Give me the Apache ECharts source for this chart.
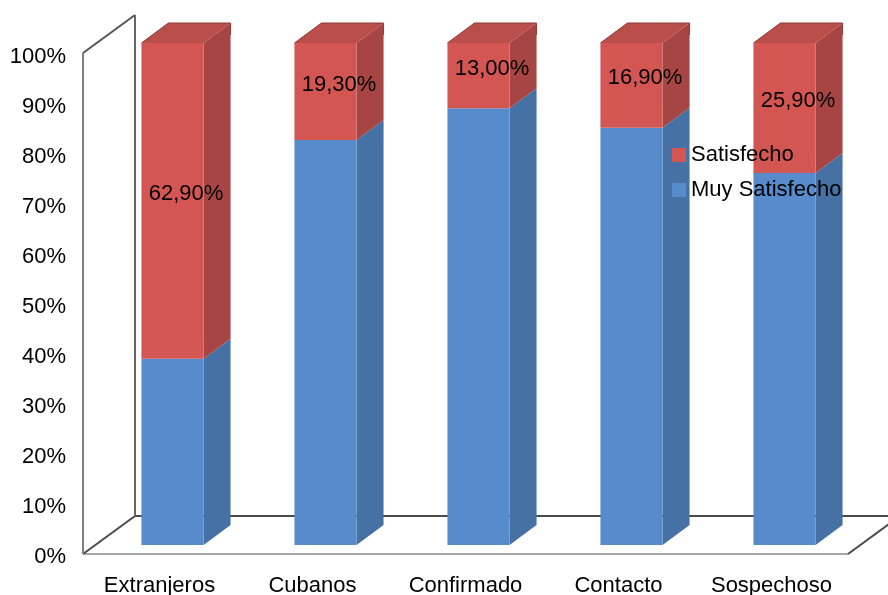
<!DOCTYPE html>
<html><head><meta charset="utf-8">
<script src="https://cdn.jsdelivr.net/npm/echarts/dist/echarts.min.js"></script>
<style>html,body{margin:0;padding:0;background:#fff}#c{width:888px;height:595px}</style>
</head><body><div id="c"></div>
<script>
// ---- data ----
const categories = ['Extranjeros', 'Cubanos', 'Confirmado', 'Contacto', 'Sospechoso'];
const muySatisfecho = [37.1, 80.7, 87.0, 83.1, 74.1];
const satisfecho = [62.9, 19.3, 13.0, 16.9, 25.9];
const seriesNames = ['Muy Satisfecho', 'Satisfecho'];

// ---- styles ----
const FONT = "'Liberation Sans', Arial, sans-serif";
const FS = 22;
const DX = 27, DY = -20;       // bar depth offset
const WX = 52, WY = -38;       // wall/floor depth offset
const BLUE = {front: '#578bcc', side: '#4671a5', top: '#4d7cb6', stroke: '#3c6290'};
const RED = {front: '#d35653', side: '#a64543', top: '#b94e4b', stroke: '#8e3a38'};

function fmt(v) { return v.toFixed(2).replace('.', ',') + '%'; }

function barRenderer(col, showLabel) {
  return function (params, api) {
    const i = api.value(0), lo = api.value(1), hi = api.value(2), val = api.value(3);
    const pLo = api.coord([i, lo]), pHi = api.coord([i, hi]);
    const band = api.size([1, 0])[0];
    const hw = band * 0.203;
    const xl = pLo[0] - hw, xr = pLo[0] + hw;
    const yl = pLo[1], yh = pHi[1];
    const children = [
      {type: 'polygon', shape: {points: [[xr, yl], [xr + DX, yl + DY], [xr + DX, yh + DY], [xr, yh]]},
        style: {fill: col.side}},
      {type: 'rect', shape: {x: xl, y: yh, width: xr - xl, height: yl - yh}, style: {fill: col.front}}
    ];
    if (showLabel) {
      children.push({type: 'polygon', shape: {points: [[xl, yh], [xr, yh], [xr + DX, yh + DY], [xl + DX, yh + DY]]},
        style: {fill: col.top}});
      children.push({type: 'polyline', shape: {points: [[xl, yh], [xl + DX, yh + DY], [xr + DX, yh + DY], [xr + DX, yh + DY + 12]]},
        style: {stroke: col.stroke, lineWidth: 1, fill: null}});
      children.push({type: 'text', x: pLo[0] + DX / 2, y: (yl + yh) / 2 + DY / 2 + 3,
        style: {text: fmt(val), fontSize: FS, fontFamily: FONT, fill: '#000', align: 'center', verticalAlign: 'middle'}});
    }
    return {type: 'group', children: children};
  };
}

const blueData = categories.map((c, i) => [i, 0, muySatisfecho[i], muySatisfecho[i]]);
const redData = categories.map((c, i) => [i, muySatisfecho[i], muySatisfecho[i] + satisfecho[i], satisfecho[i]]);

const chart = echarts.init(document.getElementById('c'), null, {renderer: 'canvas'});
chart.setOption({
  animation: false,
  backgroundColor: '#fff',
  textStyle: {fontFamily: FONT},
  grid: [
    {left: 96, top: 43, width: 765, height: 502, outerBoundsMode: 'none', containLabel: false},
    {left: 83, top: 53, width: 765, height: 501, outerBoundsMode: 'none', containLabel: false},
    {left: 83, top: 57, width: 765, height: 500, outerBoundsMode: 'none', containLabel: false}
  ],
  xAxis: [
    {type: 'category', data: categories, gridIndex: 0, show: false},
    {type: 'category', data: categories, gridIndex: 1,
      axisLine: {show: false}, axisTick: {show: false},
      axisLabel: {fontSize: FS, color: '#000', fontFamily: FONT, margin: 21, interval: 0, hideOverlap: false}},
    {type: 'category', data: categories, gridIndex: 2, show: false}
  ],
  yAxis: [
    {type: 'value', min: 0, max: 100, gridIndex: 0, show: false},
    {type: 'value', min: 0, max: 100, gridIndex: 1, show: false},
    {type: 'value', min: 0, max: 100, interval: 10, gridIndex: 2,
      axisLine: {show: false}, axisTick: {show: false}, splitLine: {show: false},
      axisLabel: {formatter: '{value}%', fontSize: FS, color: '#000', fontFamily: FONT, margin: 17}}
  ],
  legend: {
    orient: 'vertical', left: 667, top: 139,
    data: ['Satisfecho', 'Muy Satisfecho'],
    icon: 'rect', itemWidth: 14, itemHeight: 14, itemGap: 13,
    textStyle: {fontSize: FS, color: '#000', fontFamily: FONT}
  },
  series: [
    {
      type: 'custom', name: 'wall', xAxisIndex: 1, yAxisIndex: 1, z: 1, silent: true,
      data: [[0, 0]],
      renderItem: function (params, api) {
        const cs = params.coordSys;
        const x0 = cs.x, x1 = cs.x + cs.width;
        const yB = api.coord([0, 0])[1], yT = api.coord([0, 100])[1];
        const ln = (pts, c, w) => ({type: 'polyline', shape: {points: pts}, style: {stroke: c, lineWidth: w, fill: null}});
        return {type: 'group', children: [
          {type: 'polygon', shape: {points: [[x0, yT], [x0 + WX, yT + WY], [x0 + WX, yB + WY], [x0, yB]]}, style: {fill: '#fff'}},
          ln([[x0, yB], [x1, yB]], '#a6a6a6', 2),
          ln([[x0 + WX, yB + WY], [x1 + WX, yB + WY]], '#4a4a4a', 2.2),
          ln([[x1, yB], [x1 + WX, yB + WY]], '#4a4a4a', 2),
          ln([[x0, yB], [x0 + WX, yB + WY]], '#4a4a4a', 2),
          ln([[x0, yB], [x0, yT]], '#7f7f7f', 2),
          ln([[x0, yT], [x0 + WX, yT + WY]], '#555', 2),
          ln([[x0 + WX, yT + WY], [x0 + WX, yB + WY]], '#666', 2)
        ]};
      }
    },
    {
      type: 'custom', name: seriesNames[0], xAxisIndex: 0, yAxisIndex: 0, z: 2,
      itemStyle: {color: BLUE.front},
      data: blueData, renderItem: barRenderer(BLUE, false)
    },
    {
      type: 'custom', name: seriesNames[1], xAxisIndex: 0, yAxisIndex: 0, z: 3,
      itemStyle: {color: RED.front},
      data: redData, renderItem: barRenderer(RED, true)
    }
  ]
});
</script></body></html>
